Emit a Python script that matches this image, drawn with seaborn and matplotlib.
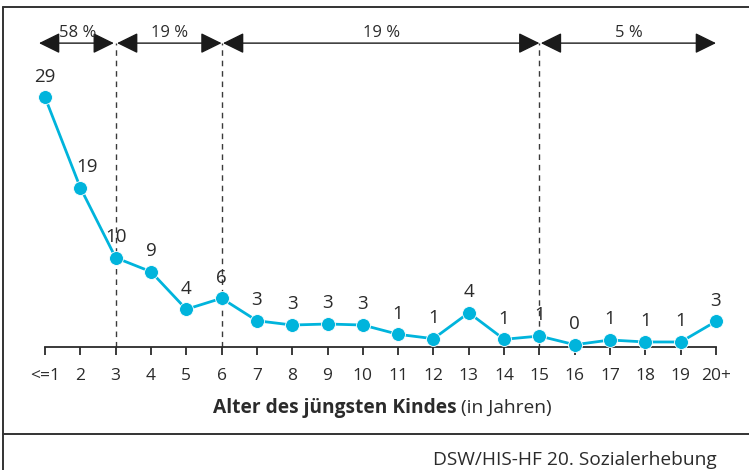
import numpy as np
import matplotlib
matplotlib.use("Agg")
import matplotlib.pyplot as plt
from matplotlib.lines import Line2D
import seaborn as sns

# Share of students with children by age of the youngest child (in %)
ages = ["<=1", "2", "3", "4", "5", "6", "7", "8", "9", "10",
        "11", "12", "13", "14", "15", "16", "17", "18", "19", "20+"]
shares = [29.0, 18.5, 10.35, 8.72, 4.35, 5.63, 3.02, 2.52, 2.64, 2.52,
          1.44, 0.93, 3.95, 0.86, 1.24, 0.23, 0.78, 0.55, 0.55, 2.95]
share_labels = ["29", "19", "10", "9", "4", "6", "3", "3", "3", "3",
                "1", "1", "4", "1", "1", "0", "1", "1", "1", "3"]

# age groups: last age of each group and its summed share
group_ends = ["3", "6", "15", "20+"]
group_pcts = ["58 %", "19 %", "19 %", "5 %"]

CYAN = "#00b4dc"
DARK = "#2b2b2b"

sns.set_style("white")
plt.rcParams["font.family"] = ["Open Sans", "DejaVu Sans"]

fig = plt.figure(figsize=(7.49, 4.70), dpi=100)
ax = fig.add_axes([45 / 749, 123.3 / 470, 671 / 749, 318.2 / 470])

pos = np.arange(len(ages))
sns.lineplot(x=pos, y=shares, ax=ax, color=CYAN, linewidth=2,
             marker="o", markersize=10, markeredgecolor="white",
             markeredgewidth=0.6, clip_on=False, zorder=3)

# the "19" label sits a little right of its point, clear of the line
label_dx = {1: 5}
for i, (x, y, lab) in enumerate(zip(pos, shares, share_labels)):
    ax.annotate(lab, (x, y), xytext=(label_dx.get(i, 0), 14.8),
                textcoords="offset points",
                ha="center", va="center", fontsize=13.5, color=DARK)

ax.set_xlim(0, len(ages) - 1)
ax.set_ylim(0, 37)
ax.set_xticks(pos)
ax.set_xticklabels(ages)
ax.set_yticks([])
ax.tick_params(axis="x", direction="out", length=6, width=1.3, color=DARK,
               labelsize=12.5, labelcolor=DARK, pad=9, bottom=True)
for side in ["left", "right", "top"]:
    ax.spines[side].set_visible(False)
ax.spines["bottom"].set_color(DARK)
ax.spines["bottom"].set_linewidth(1.3)
ax.set_xlabel("")

# group brackets with double arrows
arrow_y = 35.3
ends = [ages.index(g) for g in group_ends]
starts = [-0.17] + [e + 0.04 for e in ends[:-1]]
for i, (s, e, pct) in enumerate(zip(starts, ends, group_pcts)):
    e_adj = e - 0.05 if i == 0 else e
    ax.annotate("", xy=(e_adj, arrow_y), xytext=(s, arrow_y),
                arrowprops=dict(arrowstyle="<|-|>,head_length=0.65,head_width=0.32",
                                mutation_scale=20, color="#1a1a1a", lw=1,
                                shrinkA=0, shrinkB=0),
                annotation_clip=False)
    ax.text((s + e) / 2, 36.5, pct, ha="center", va="center",
            fontsize=12, color=DARK, clip_on=False)
for e in ends[:-1]:
    ax.plot([e, e], [0, arrow_y], color="#3a3a3a", lw=1,
            linestyle=(0, (4, 3.5)), zorder=1, clip_on=False)

# axis title: bold part + regular part
fig.text(457 / 749, 1 - 407.5 / 470, "Alter des jüngsten Kindes", ha="right",
         va="center", fontsize=13.8, fontweight="bold", color=DARK)
fig.text(461.5 / 749, 1 - 407.5 / 470, "(in Jahren)", ha="left",
         va="center", fontsize=13.8, color=DARK)

# frame and source
fig.add_artist(Line2D([3 / 749, 3 / 749], [0, 1 - 7 / 470],
                      transform=fig.transFigure, color="#333333", lw=1.4))
fig.add_artist(Line2D([3 / 749, 1], [1 - 7 / 470, 1 - 7 / 470],
                      transform=fig.transFigure, color="#333333", lw=1.4))
fig.add_artist(Line2D([3 / 749, 1], [1 - 434 / 470, 1 - 434 / 470],
                      transform=fig.transFigure, color="#333333", lw=1.4))
fig.text(717 / 749, 1 - 460 / 470, "DSW/HIS-HF 20. Sozialerhebung",
         ha="right", va="center", fontsize=13.8, color=DARK)

fig.savefig("out.png", dpi=100)
